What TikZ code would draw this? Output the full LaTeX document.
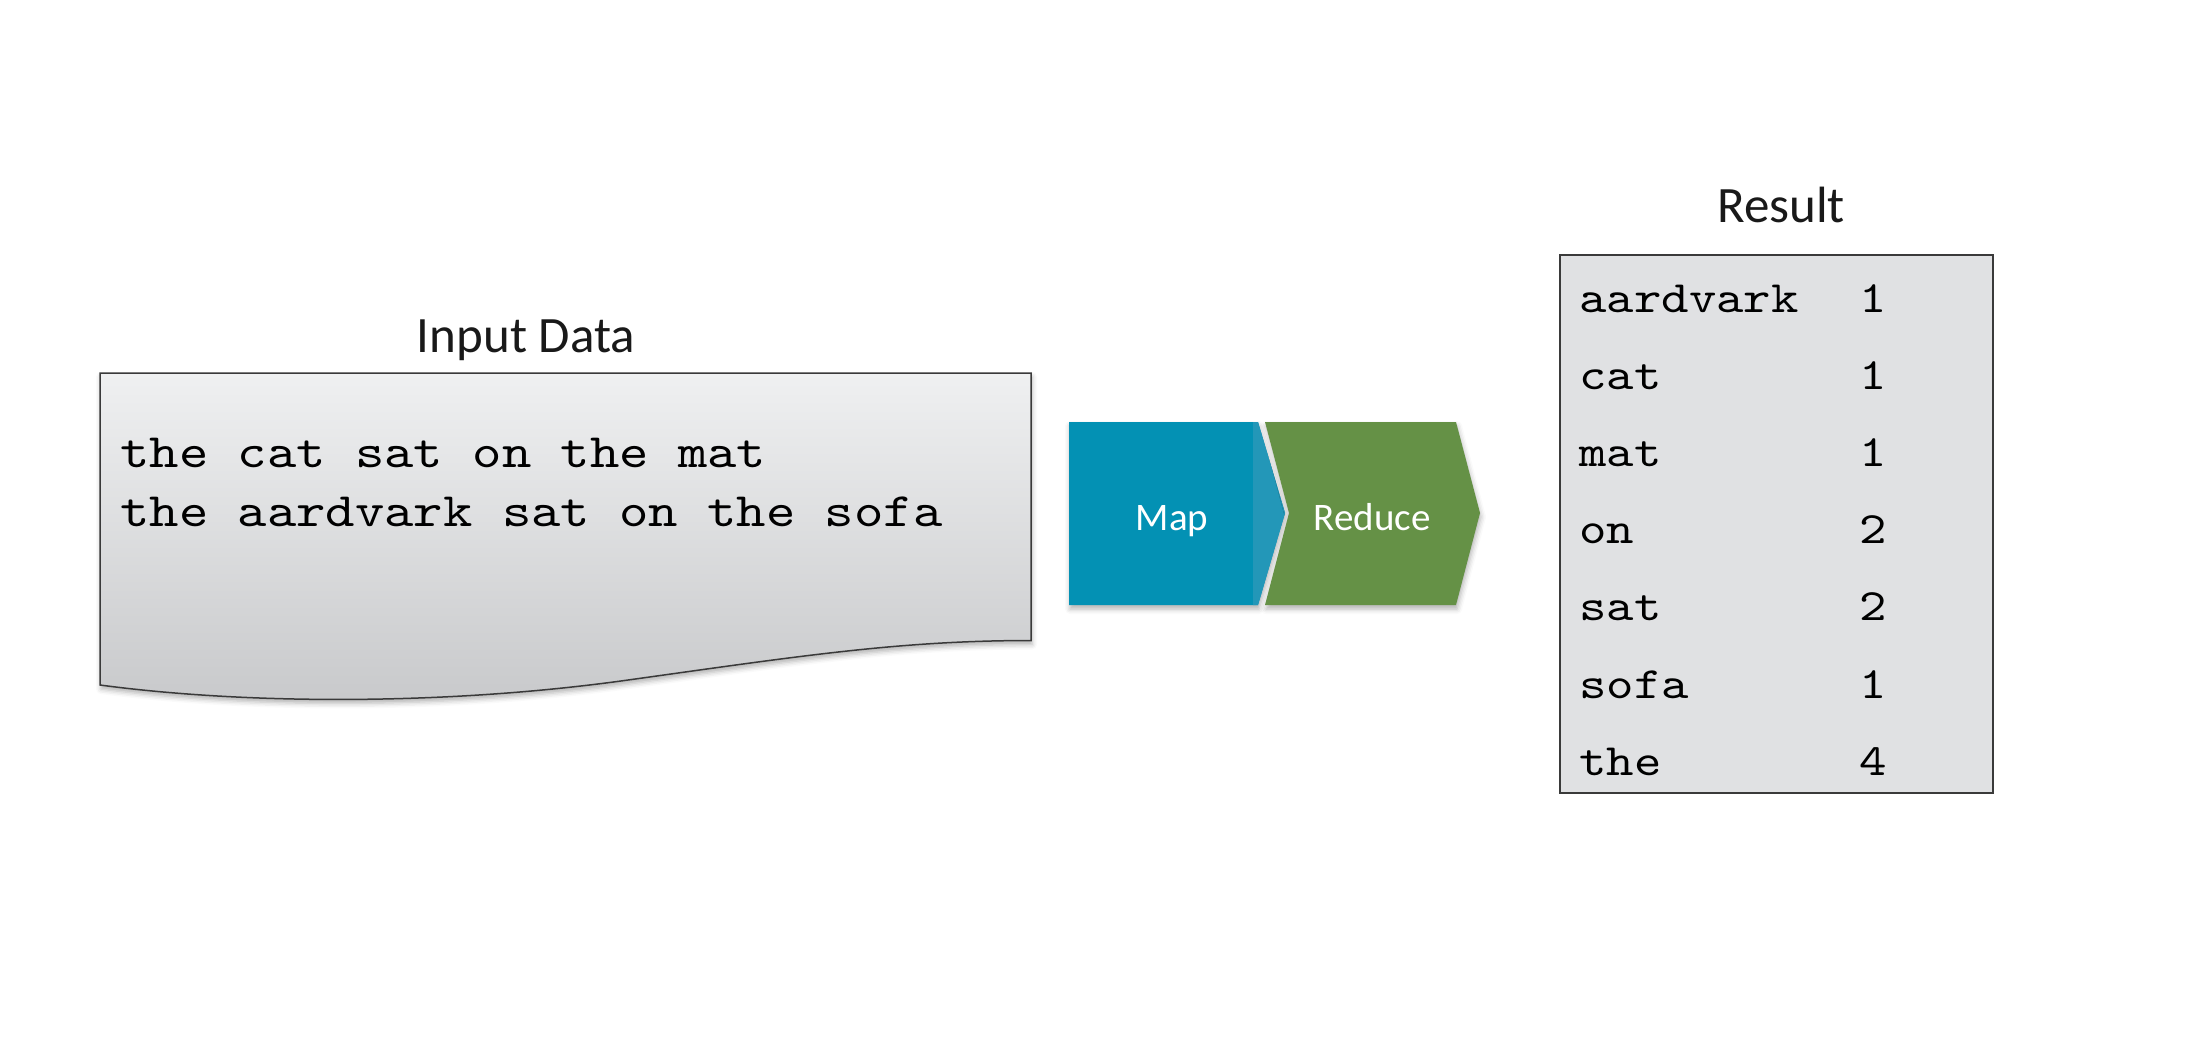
\documentclass[tikz,border=0pt]{standalone}
\usepackage{fontspec}
\newfontfamily\calfont{Carlito}
\newfontfamily\monofont[FakeStretch=1.165]{lmmono10-regular.otf}
\usetikzlibrary{shadows.blur}
\definecolor{mapblue}{HTML}{0391B4}
\definecolor{maplight}{HTML}{2397B8}
\definecolor{redgreen}{HTML}{659146}
\definecolor{resfill}{HTML}{E0E1E3}
\definecolor{edgegray}{HTML}{3A3A3A}
\definecolor{doctop}{HTML}{EFF0F1}
\definecolor{docbot}{HTML}{C8C9CB}
\begin{document}
\begin{tikzpicture}[x=0.5pt,y=-0.5pt,
  titletext/.style={font=\calfont\fontsize{25.5}{30}\selectfont, anchor=base, inner sep=0, text=black!90},
  inputtext/.style={font=\monofont\fontsize{24}{29}\selectfont, anchor=base west, inner sep=0, text=black},
  restext/.style={font=\monofont\fontsize{22.4}{27}\selectfont, anchor=base west, inner sep=0, text=black},
  chevtext/.style={font=\calfont\fontsize{19.5}{23}\selectfont, anchor=base, inner sep=0, text=white},
  softshadow/.style={blur shadow={shadow xshift=0.5pt, shadow yshift=-2pt, shadow opacity=30, shadow blur radius=2.5pt}}
]
\useasboundingbox (0,0) rectangle (2188,1062);

% Input document
\path[softshadow] (100,373) -- (1031,373) -- (1031,640.5)
  .. controls (900,640.5) and (800,656) .. (628,680)
  .. controls (450,705) and (250,705) .. (100,685) -- cycle;
\shade[top color=doctop, bottom color=docbot, draw=edgegray, line width=0.75pt]
  (100,373) -- (1031,373) -- (1031,640.5)
  .. controls (900,640.5) and (800,656) .. (628,680)
  .. controls (450,705) and (250,705) .. (100,685) -- cycle;
\node[titletext] (intitle) at (526,352) {Input Data};
\node[inputtext] (line1) at (120,467) {the cat sat on the mat};
\node[inputtext] (line2) at (120,526) {the aardvark sat on the sofa};

% Map / Reduce chevrons
\fill[mapblue, softshadow] (1069,422) -- (1258,422) -- (1285,513) -- (1258,605) -- (1069,605) -- cycle;
\fill[maplight] (1253,422) -- (1258,422) -- (1285,513) -- (1258,605) -- (1253,605) -- cycle;
\fill[redgreen, softshadow] (1265,422) -- (1456,422) -- (1480,513) -- (1456,605) -- (1265,605) -- (1289,513) -- cycle;
\node[chevtext] (map) at (1172,530) {Map};
\node[chevtext] (reduce) at (1372,530) {Reduce};

% Result
\node[titletext] (restitle) at (1781,222) {Result};
\draw[fill=resfill, draw=edgegray, line width=1.2pt] (1560,255) rectangle (1993,793);
\foreach \w/\n [count=\i from 0] in {aardvark/1, cat/1, mat/1, on/2, sat/2, sofa/1, the/4} {
  \node[restext] (w\i) at (1579,{312+77.2*\i}) {\w};
  \node[restext] (n\i) at (1859,{312+77.2*\i}) {\n};
}
\end{tikzpicture}
\end{document}
